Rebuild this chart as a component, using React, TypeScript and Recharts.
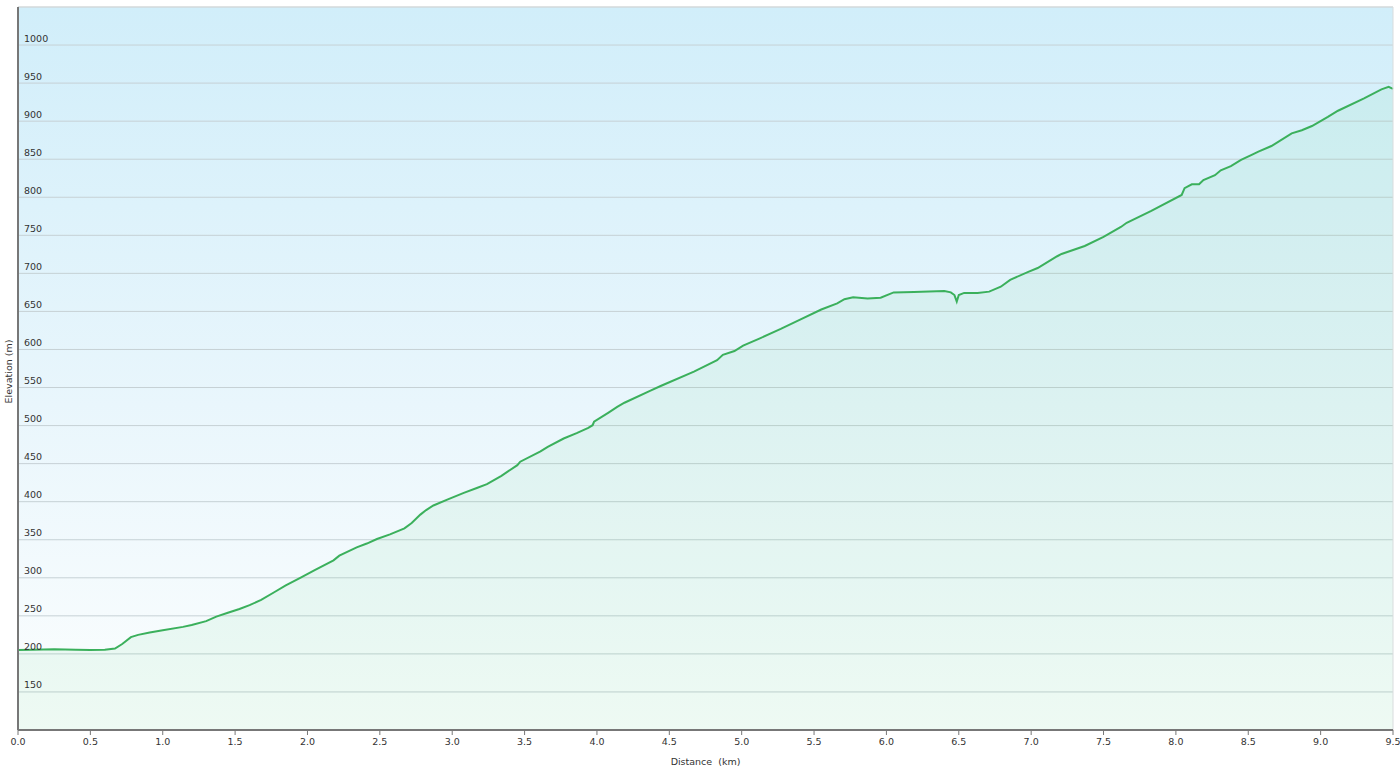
import React from 'react';
import { AreaChart, Area, XAxis, YAxis, CartesianGrid, ReferenceLine, Label } from 'recharts';

const distanceKm = [
  0.0, 0.1, 0.25, 0.4, 0.5, 0.6, 0.67, 0.72, 0.78, 0.83, 0.91, 1.0, 1.14, 1.2, 1.3, 1.37, 1.45, 1.53, 1.6, 1.68,
  1.77, 1.85, 1.95, 2.05, 2.18, 2.22, 2.34, 2.41, 2.48, 2.57, 2.67, 2.72, 2.78, 2.82, 2.87, 2.97, 3.08, 3.17, 3.24, 3.34,
  3.45, 3.47, 3.61, 3.66, 3.77, 3.86, 3.94, 3.97, 3.98, 4.08, 4.14, 4.19, 4.37, 4.44, 4.67, 4.83, 4.87, 4.95, 5.01, 5.13,
  5.27, 5.4, 5.55, 5.66, 5.71, 5.77, 5.87, 5.96, 6.05, 6.19, 6.4, 6.445, 6.47, 6.486, 6.5, 6.537, 6.63, 6.71, 6.79, 6.855,
  6.98, 7.045, 7.18, 7.21, 7.37, 7.5, 7.62, 7.66, 7.83, 8.04, 8.06, 8.11, 8.16, 8.19, 8.27, 8.31, 8.38, 8.45, 8.52, 8.57,
  8.66, 8.8, 8.87, 8.94, 9.05, 9.12, 9.3, 9.42, 9.47, 9.5,
];

const elevationM = [
  205, 205.5, 206, 205.5, 205, 205.5, 207, 213, 222, 225, 228, 231, 235.5, 238, 243, 249, 254, 259, 264, 271,
  281, 290, 300, 310, 323, 329, 340, 345, 351, 357, 365, 372, 383, 389, 395, 403, 411.5, 418, 423, 434,
  448, 452.5, 466, 472, 483, 490, 497, 500.5, 505, 517, 524.5, 530, 546, 552, 571, 586, 593, 598, 605, 615,
  627, 639, 652.5, 660.5, 666, 668.5, 667, 668, 675, 675.5, 676.8, 675, 671.5, 663, 671.5, 674.3, 674.2, 676, 682.5, 691.5,
  702, 707, 722.5, 725.5, 736, 748, 761, 766.5, 782, 803, 812, 817, 817, 822.7, 829, 835.5, 841, 849, 855.5, 860,
  867.3, 884, 888, 893.6, 905.5, 913.7, 930, 941.8, 945, 942.5,
];

const xTicks = [0, 0.5, 1, 1.5, 2, 2.5, 3, 3.5, 4, 4.5, 5, 5.5, 6, 6.5, 7, 7.5, 8, 8.5, 9, 9.5];
const yTicks = [150, 200, 250, 300, 350, 400, 450, 500, 550, 600, 650, 700, 750, 800, 850, 900, 950, 1000];
const xDomain: [number, number] = [0, 9.5];
const yDomain: [number, number] = [100, 1050];

const data = distanceKm.map((d, i) => ({ km: d, elev: elevationM[i] }));

const FONT = '"DejaVu Sans", Verdana, sans-serif';
const TEXT = '#333333';

const YTick = (props: any) => {
  const { x, y, payload } = props;
  return (
    <text x={x} y={y - 3.5} textAnchor="start" fontFamily={FONT} fontSize={9.5} fill={TEXT}>
      {payload.value}
    </text>
  );
};

const YTitle = (props: any) => {
  const vb = props.viewBox || { x: 18, y: 7, width: 0, height: 723 };
  const cx = 8;
  const cy = vb.y + vb.height / 2 + 3;
  return (
    <text
      x={cx}
      y={cy}
      transform={`rotate(-90 ${cx} ${cy})`}
      textAnchor="middle"
      dominantBaseline="central"
      fontFamily={FONT}
      fontSize={9.5}
      fill={TEXT}
    >
      Elevation (m)
    </text>
  );
};

export default function App() {
  return (
    <div style={{ position: 'absolute', left: 0, top: 0, width: 1400, height: 769, background: '#fff' }}>
      <AreaChart width={1400} height={769} data={data} margin={{ top: 7, right: 7, left: 18, bottom: 0 }}>
        <defs>
          <linearGradient id="bgGrad" x1="0" y1="0" x2="0" y2="1">
            <stop offset="0" stopColor="#d1eefa" />
            <stop offset="0.55" stopColor="#e9f6fc" />
            <stop offset="1" stopColor="#fcfefe" />
          </linearGradient>
        </defs>
        <CartesianGrid vertical={false} stroke="#c6d1d5" strokeWidth={1} fill="url(#bgGrad)" fillOpacity={1} />
        <XAxis
          dataKey="km"
          type="number"
          domain={xDomain}
          ticks={xTicks}
          interval={0}
          height={39}
          tickSize={5}
          tickMargin={3}
          tickFormatter={(v: number) => v.toFixed(1)}
          tick={{ fontFamily: FONT, fontSize: 9.5, fill: TEXT }}
          axisLine={{ stroke: '#777777', strokeWidth: 2 }}
          tickLine={{ stroke: '#777777' }}
        >
          <Label
            value={'Distance\u00a0 (km)'}
            position="insideBottom"
            offset={4}
            style={{ fontFamily: FONT, fontSize: 9.5, fill: TEXT }}
          />
        </XAxis>
        <YAxis
          type="number"
          domain={yDomain}
          ticks={yTicks}
          interval={0}
          mirror
          tickSize={0}
          tickMargin={6}
          tickLine={false}
          tick={<YTick />}
          axisLine={{ stroke: '#777777', strokeWidth: 2 }}
          label={{ content: <YTitle /> }}
        />
        <ReferenceLine y={1050} stroke="#d8dcdd" strokeWidth={1} />
        <ReferenceLine x={9.5} stroke="#d8dcdd" strokeWidth={1} />
        <Area
          type="linear"
          dataKey="elev"
          stroke="#3bb05c"
          strokeWidth={2}
          fill="#3cc860"
          fillOpacity={0.07}
          dot={false}
          activeDot={false}
          isAnimationActive={false}
        />
      </AreaChart>
    </div>
  );
}
